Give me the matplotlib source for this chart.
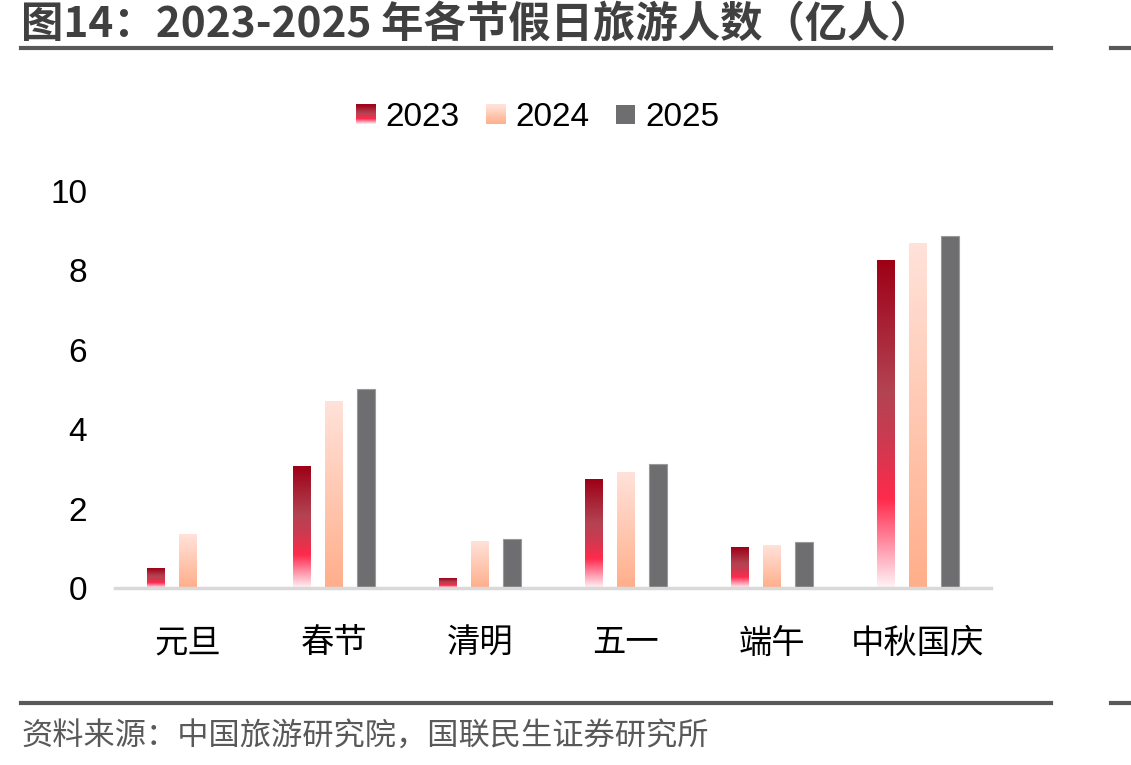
import numpy as np
import matplotlib
matplotlib.use("Agg")
import matplotlib.pyplot as plt
from matplotlib.colors import LinearSegmentedColormap
from matplotlib.patches import Rectangle
from matplotlib.legend_handler import HandlerBase
from matplotlib.lines import Line2D

plt.rcParams['font.family'] = ['Noto Sans CJK SC', 'DejaVu Sans']

categories = ["元旦", "春节", "清明", "五一", "端午", "中秋国庆"]
series_names = ["2023", "2024", "2025"]
v2023 = [0.50, 3.05, 0.23, 2.74, 1.03, 8.24]
v2024 = [1.34, 4.71, 1.16, 2.92, 1.08, 8.69]
v2025 = [0.00, 5.00, 1.23, 3.12, 1.16, 8.87]
yticks = [0, 2, 4, 6, 8, 10]
title = "图14：2023-2025 年各节假日旅游人数（亿人）"
source = "资料来源：中国旅游研究院，国联民生证券研究所"

cmap23 = LinearSegmentedColormap.from_list("c23", [
    (0.0, "#fff4f7"), (0.12, "#ff9aae"), (0.27, "#ff2a4c"),
    (0.45, "#cc3a50"), (0.6, "#b34352"), (0.8, "#a82235"), (1.0, "#9e0016")])
cmap24 = LinearSegmentedColormap.from_list("c24", [(0.0, "#ffae8a"), (1.0, "#ffe2da")])
color25 = "#6e6e70"
latin = ['Liberation Sans', 'DejaVu Sans']

fig = plt.figure(figsize=(11.31, 7.65), dpi=100)
ax = fig.add_axes([0.1017, 0.2314, 0.7742, 0.5189])

x = np.arange(len(categories))
w = 0.123
off = 0.22
grad = np.linspace(0, 1, 256).reshape(-1, 1)

def gradient_bars(xs, vals, cmap):
    bars = ax.bar(xs, vals, width=w, color="none", edgecolor="none")
    for b in bars:
        h = b.get_height()
        if h <= 0:
            continue
        x0 = b.get_x()
        ax.imshow(grad, cmap=cmap, origin="lower", aspect="auto",
                  extent=[x0, x0 + b.get_width(), 0, h], zorder=2,
                  interpolation="bilinear")

gradient_bars(x - off, v2023, cmap23)
gradient_bars(x, v2024, cmap24)
ax.bar(x + off, v2025, width=w, color=color25, edgecolor="#9a9a9a", linewidth=0.8, zorder=2)

ax.set_xlim(-0.5, len(categories) - 0.5)
ax.set_ylim(0, 10)
ax.set_yticks(yticks)
ax.set_yticklabels([str(t) for t in yticks], fontsize=24, family=latin)
ax.set_xticks(x)
ax.set_xticklabels(categories, fontsize=24)
ax.tick_params(axis='both', length=0)
ax.tick_params(axis='x', pad=27)
ax.tick_params(axis='y', pad=20)
for s in ["top", "right", "left"]:
    ax.spines[s].set_visible(False)
ax.spines["bottom"].set_color("#d9d9d9")
ax.spines["bottom"].set_linewidth(2.5)

class GradHandler(HandlerBase):
    def __init__(self, cmap):
        super().__init__()
        self.cmap = cmap
    def create_artists(self, legend, orig_handle, xdescent, ydescent, width, height, fontsize, trans):
        arts = []
        n = 20
        size = height
        x0 = -xdescent + (width - size)
        for i in range(n):
            r = Rectangle((x0, -ydescent + size * i / n), size, size / n + 0.2,
                          facecolor=self.cmap((i + 0.5) / n), edgecolor="none", transform=trans)
            arts.append(r)
        return arts

class SolidHandler(HandlerBase):
    def create_artists(self, legend, orig_handle, xdescent, ydescent, width, height, fontsize, trans):
        size = height
        r = Rectangle((-xdescent + (width - size), -ydescent), size, size,
                      facecolor=color25, edgecolor="none", transform=trans)
        return [r]

h1, h2, h3 = Line2D([], []), Line2D([], []), Line2D([], [])
leg = fig.legend([h1, h2, h3], series_names, loc="center", bbox_to_anchor=(0.4765, 0.846),
                 ncol=3, frameon=False, handlelength=0.52, handleheight=0.52,
                 handletextpad=0.3, columnspacing=0.85,
                 handler_map={h1: GradHandler(cmap23), h2: GradHandler(cmap24), h3: SolidHandler()},
                 prop={'family': latin, 'size': 24})

fig.text(0.019, 0.968, title, fontsize=30.5, fontweight="bold", color="#404040", va="center", ha="left")
fig.add_artist(Line2D([0.019, 0.929], [0.937, 0.937], color="#595959", linewidth=3))
fig.add_artist(Line2D([0.982, 1.0], [0.937, 0.937], color="#595959", linewidth=3))
fig.add_artist(Line2D([0.019, 0.929], [0.081, 0.081], color="#595959", linewidth=3))
fig.add_artist(Line2D([0.982, 1.0], [0.081, 0.081], color="#595959", linewidth=3))
fig.text(0.019, 0.037, source, fontsize=22.5, color="#595959", va="center", ha="left")

fig.savefig("out.png", dpi=100)
